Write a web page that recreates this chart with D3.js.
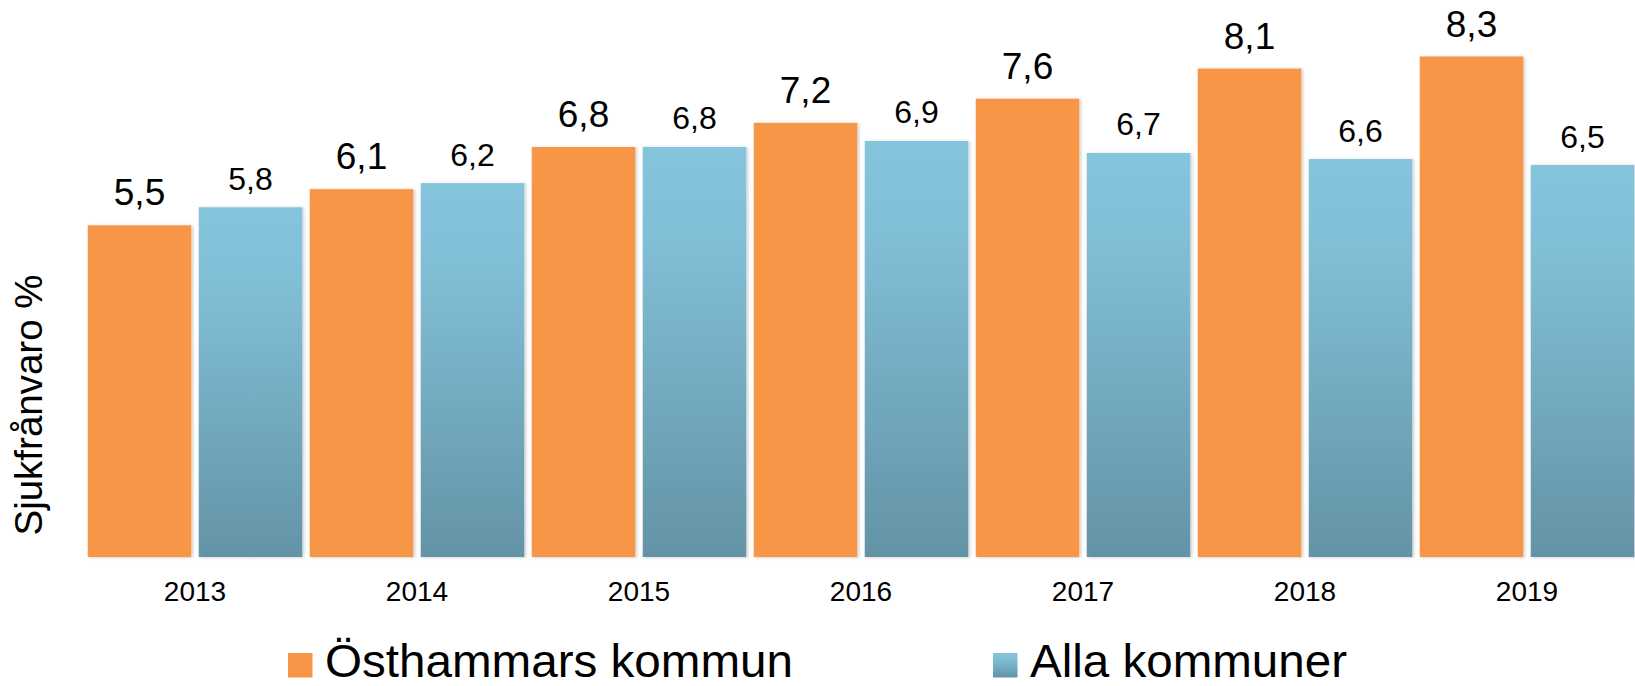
<!DOCTYPE html>
<html>
<head>
<meta charset="utf-8">
<script src="https://cdn.jsdelivr.net/npm/d3@7"></script>
<style>
  body { margin: 0; background: #fff; }
  svg { display: block; font-family: "Liberation Sans", Arial, sans-serif; }
</style>
</head>
<body>
<svg width="1635" height="686"></svg>
<script>
var years = ["2013", "2014", "2015", "2016", "2017", "2018", "2019"];
var series = ["Östhammars kommun", "Alla kommuner"];
var osthammar = [5.5, 6.1, 6.8, 7.2, 7.6, 8.1, 8.3];
var allaKommuner = [5.8, 6.2, 6.8, 6.9, 6.7, 6.6, 6.5];
var yLabel = "Sjukfrånvaro %";

var svg = d3.select("svg"),
    width = 1635,
    height = 686;

var rows = [];
years.forEach(function(y, i) {
  rows.push({ year: y, key: series[0], value: osthammar[i] });
  rows.push({ year: y, key: series[1], value: allaKommuner[i] });
});

var x0 = d3.scaleBand().domain(years).range([84, 84 + 7 * 222]);
var x1 = d3.scaleBand().domain(series).range([0, x0.bandwidth()])
           .paddingInner(0.0676).paddingOuter(0.0338);
var yScale = d3.scaleLinear().domain([0, 9.2]).range([557, 557 - 9.2 * 60.3]);

var defs = svg.append("defs");
var grad = defs.append("linearGradient")
    .attr("id", "blueGrad")
    .attr("x1", 0).attr("y1", 0).attr("x2", 0).attr("y2", 1);
grad.append("stop").attr("offset", "0%").attr("stop-color", "#84c4dd");
grad.append("stop").attr("offset", "22%").attr("stop-color", "#81bfd7");
grad.append("stop").attr("offset", "100%").attr("stop-color", "#6493a6");

var shadow = defs.append("filter").attr("id", "shadow")
    .attr("x", "-10%").attr("y", "-10%").attr("width", "120%").attr("height", "120%");
shadow.append("feDropShadow")
    .attr("dx", 1.5).attr("dy", 0.5).attr("stdDeviation", 1.8)
    .attr("flood-color", "#000").attr("flood-opacity", 0.22);

var color = function(k) { return k == series[0] ? "#f79646" : "url(#blueGrad)"; };

// axis line
var xAxis = svg.append("g")
    .attr("transform", "translate(0,557)")
    .call(d3.axisBottom(x0).tickSize(0).tickPadding(0));
xAxis.select(".domain")
    .attr("stroke", "#9a9a9a").attr("stroke-width", 1.5)
    .attr("filter", "url(#shadow)");
xAxis.selectAll("text")
    .attr("dy", null)
    .attr("y", 43.5)
    .attr("font-size", 28)
    .attr("font-family", "Liberation Sans, Arial, sans-serif")
    .attr("fill", "#000");

svg.append("g").selectAll("rect")
   .data(rows)
   .enter()
   .append("rect")
   .attr("x", function(d) { return x0(d.year) + x1(d.key); })
   .attr("y", function(d) { return yScale(d.value); })
   .attr("width", x1.bandwidth())
   .attr("height", function(d) { return yScale(0) - yScale(d.value); })
   .attr("fill", function(d) { return color(d.key); })
   .attr("filter", "url(#shadow)");

// value labels
svg.append("g").selectAll("text")
   .data(rows)
   .enter()
   .append("text")
   .attr("x", function(d) { return x0(d.year) + x1(d.key) + x1.bandwidth() / 2; })
   .attr("y", function(d) { return yScale(d.value) - (d.key == series[0] ? 20 : 17.5); })
   .attr("text-anchor", "middle")
   .attr("font-size", function(d) { return d.key == series[0] ? 37 : 32; })
   .text(function(d) { return d3.format(".1f")(d.value).replace(".", ","); });

// y label
svg.append("text")
   .attr("transform", "translate(42,405) rotate(-90)")
   .attr("text-anchor", "middle")
   .attr("font-size", 38.5)
   .text(yLabel);

// legend
var legendX = [288, 993];
var legendW = [468, 317];
var legend = svg.append("g").selectAll("g")
   .data(series)
   .enter()
   .append("g")
   .attr("transform", function(d, i) { return "translate(" + legendX[i] + ",0)"; });
legend.append("rect")
   .attr("x", 0).attr("y", 653)
   .attr("width", 24.5).attr("height", 24.5)
   .attr("fill", function(d) { return color(d); });
legend.append("text")
   .attr("x", 37).attr("y", 677)
   .attr("font-size", 47)
   .attr("textLength", function(d, i) { return legendW[i]; })
   .attr("lengthAdjust", "spacingAndGlyphs")
   .text(function(d) { return d; });
</script>
</body>
</html>
